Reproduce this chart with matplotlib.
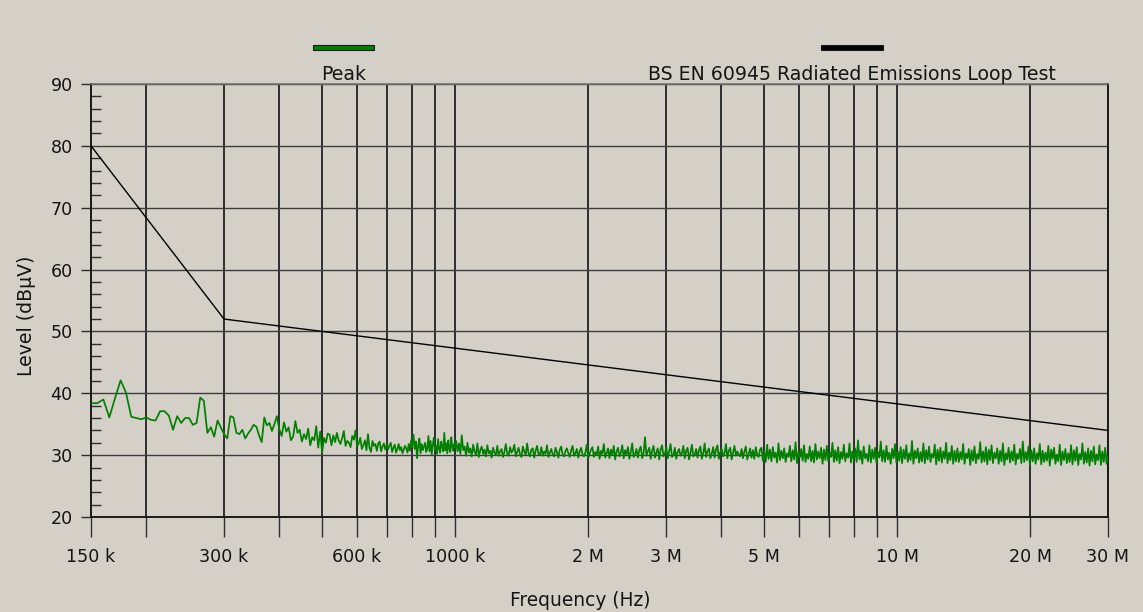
import numpy as np
import matplotlib
matplotlib.use("Agg")
import matplotlib.pyplot as plt
from matplotlib.patches import Rectangle
from matplotlib.ticker import FixedLocator, MultipleLocator

# ---- data ----
# limit line (BS EN 60945 loop test)
limit_freq = [150e3, 300e3, 30e6]
limit_level = [80, 52, 34]

# peak trace, 150 kHz .. 1000 kHz in 5 kHz steps
peak_lo = [
    38.4, 38.4, 39.0, 36.1, 39.2, 42.1, 40.1, 36.2, 36.0, 35.8,
    36.1, 35.7, 35.6, 37.1, 37.1, 36.4, 34.1, 36.3, 35.2, 36.0,
    36.0, 34.9, 35.2, 39.3, 38.8, 33.6, 34.5, 33.0, 35.6, 34.5,
    33.4, 32.7, 36.3, 36.1, 33.6, 33.4, 34.1, 32.7, 33.5, 34.1,
    34.9, 34.6, 33.2, 32.1, 36.1, 34.8, 35.2, 33.9,
    35.0, 36.3, 34.2,
    33.1, 35.3, 33.8, 34.5, 32.4, 33.0, 35.5, 33.6, 34.1, 32.2,
    33.4, 32.6, 34.3, 31.6, 32.9, 32.4, 34.7, 31.2, 33.8, 30.4,
    32.8, 32.0, 33.5, 33.3, 31.6, 33.2, 32.1, 33.6, 32.4, 31.8,
    32.7, 33.9, 31.5, 32.3, 32.0, 31.3, 33.1, 32.5, 34.0, 31.4,
    31.9, 32.8, 31.0, 31.6, 32.4, 30.8, 33.4, 31.2, 30.5, 32.3,
    31.5, 31.8, 30.7, 31.9, 32.2, 30.6, 31.4, 31.9, 30.9, 31.7,
    30.9, 31.6, 32.0, 30.5, 31.2, 31.7, 30.4, 31.0, 31.8, 30.8,
    31.3, 30.3, 30.9, 31.5, 31.1, 30.4, 31.8, 30.7, 32.4, 31.3,
    33.3, 31.0, 32.2, 29.5, 31.6, 32.7, 30.3, 31.8, 30.8, 31.4,
    32.0, 30.5, 31.1, 33.1, 30.6, 32.3, 30.1, 31.7, 32.8, 30.9,
    31.5, 30.2, 32.6, 31.0, 30.4, 32.2, 31.3, 30.6, 33.6, 30.8,
    31.9, 30.3, 32.4, 31.1, 30.5, 32.9, 31.4, 30.7, 31.8, 31.2,
]

# peak trace, 1 MHz .. 30 MHz (log sweep)
peak_hi = [
    32.3, 30.6, 31.9, 30.2, 33.2, 30.8, 31.4, 29.9, 32.0, 30.4,
    31.1, 29.8, 31.7, 30.5, 30.1, 31.9, 29.7, 30.8, 31.4, 30.2,
    30.9, 29.8, 31.6, 30.3, 30.7, 29.6, 31.2, 30.4, 30.0, 31.5,
    29.9, 30.6, 31.0, 29.7, 30.5, 31.8, 30.2, 29.9, 31.3, 30.4,
    30.8, 31.7, 29.8, 30.5, 31.2, 30.1, 29.7, 31.4, 30.6, 30.0,
    31.9, 30.3, 29.8, 30.9, 31.1, 29.6, 30.7, 31.5, 30.2, 30.0,
    31.3, 29.9, 30.6, 30.2, 31.6, 29.7, 30.4, 31.0, 30.1, 29.8,
    31.2, 30.5, 29.6, 30.9, 31.4, 30.0, 29.8, 30.7, 31.1, 30.3,
    29.7, 30.8, 31.5, 29.9, 30.3, 31.0, 29.6, 30.6, 31.2, 30.1,
    29.8, 30.4, 31.7, 29.5, 30.2, 30.9, 31.3, 29.7, 30.5, 30.0,
    31.4, 29.4, 30.7, 30.2, 31.8, 29.6, 30.3, 31.1, 29.5, 30.9,
    30.0, 31.5, 29.3, 30.6, 31.2, 29.8, 30.4, 31.6, 29.5, 30.8,
    30.1, 31.3, 29.4, 30.5, 31.9, 29.7, 30.2, 31.0, 29.6, 30.8,
    31.4, 29.5, 30.3, 32.9, 29.9, 30.6, 31.2, 29.4, 30.7, 31.5,
    29.6, 30.4, 31.1, 29.3, 30.9, 31.6, 29.8, 30.2, 31.3, 29.5,
    30.6, 31.8, 29.7, 30.0, 31.2, 29.4, 30.5, 31.0, 29.9, 30.3,
    31.5, 29.5, 30.7, 31.2, 29.3, 30.4, 31.7, 29.8, 30.1, 31.0,
    29.6, 30.8, 31.4, 29.4, 30.3, 31.9, 29.7, 30.6, 31.1, 29.5,
    30.2, 31.3, 29.6, 30.9, 31.6, 29.4, 30.5, 31.0, 29.8, 30.3,
    31.8, 29.5, 30.7, 31.2, 29.3, 30.4, 31.5, 29.9, 30.6, 30.1,
    29.8, 31.0, 29.5, 30.6, 31.4, 29.3, 30.2, 31.1, 29.6, 30.8,
    29.4, 31.3, 30.0, 29.7, 30.9,
    31.2, 29.1, 30.6, 28.9, 31.7, 29.4, 30.9, 29.0, 31.3, 29.6,
    30.4, 28.8, 31.9, 29.2, 30.7, 29.5, 31.1, 28.9, 30.3, 29.7,
    31.5, 29.0, 30.8, 29.3, 32.1, 28.7, 30.5, 29.6, 31.0, 29.1,
    31.6, 28.9, 30.2, 29.4, 31.4, 29.0, 30.7, 28.8, 31.8, 29.3,
    30.6, 29.5, 31.2, 28.6, 30.9, 29.2, 31.5, 29.0, 30.4, 29.7,
    32.0, 28.9, 30.8, 29.1, 31.3, 28.7, 30.5, 29.4, 31.7, 29.0,
    30.3, 29.6, 31.9, 28.8, 30.6, 29.2, 31.1, 28.9, 32.4, 29.3,
    30.7, 28.6, 31.4, 29.5, 30.2, 29.0, 31.6, 28.8, 30.9, 29.4,
    31.2, 28.7, 30.5, 29.6, 32.2, 29.0, 30.8, 28.9, 31.5, 29.3,
    30.4, 28.6, 31.0, 29.5, 31.8, 28.8, 30.6, 29.1, 31.3, 28.7,
    30.9, 29.4, 31.6, 28.9, 30.3, 29.2, 32.3, 28.6, 30.7, 29.5,
    31.1, 28.8, 30.5, 29.0, 31.9, 28.7, 30.8, 29.3, 31.4, 28.9,
    30.2, 29.6, 31.7, 28.5, 30.9, 29.1, 31.2, 28.8, 30.6, 29.4,
    32.0, 28.7, 30.4, 29.2, 31.5, 28.6, 30.7, 29.0, 31.1, 28.9,
    30.5, 29.3, 31.8, 28.6, 30.3, 29.5, 31.0, 28.4, 30.8, 29.1,
    31.4, 28.7, 30.2, 29.4, 32.1, 28.8, 30.6, 29.0, 31.3, 28.5,
    30.9, 29.2, 31.6, 28.7, 30.4, 29.5, 31.1, 28.6, 30.7, 29.0,
    31.9, 28.4, 30.3, 29.3, 31.2, 28.8, 30.6, 29.1, 31.7, 28.5,
    30.2, 29.4, 31.0, 28.7, 32.2, 28.9, 30.5, 29.2, 31.4, 28.4,
    30.8, 29.0, 31.1, 28.6, 30.3, 29.3, 31.8, 28.5, 30.7, 28.9,
    30.4, 29.1, 31.5, 28.3, 30.9, 29.4, 31.2, 28.6, 30.1, 29.0,
    31.7, 28.4, 30.6, 29.2, 31.0, 28.7, 30.3, 28.9, 31.6, 28.5,
    30.8, 29.1, 31.3, 28.4, 30.2, 29.3, 31.9, 28.6, 30.5, 28.8,
    31.1, 28.3, 30.7, 29.0, 31.4, 28.5, 30.1, 29.2, 31.6, 28.4,
    30.6, 28.9, 31.2, 28.6, 29.9,
]

grid_freq = [150e3, 200e3, 300e3, 400e3, 500e3, 600e3, 700e3, 800e3, 900e3,
             1e6, 2e6, 3e6, 4e6, 5e6, 6e6, 7e6, 8e6, 9e6, 10e6, 20e6, 30e6]
grid_labels = ["150 k", "", "300 k", "", "", "600 k", "", "", "", "1000 k",
               "2 M", "3 M", "", "5 M", "", "", "", "", "10 M", "20 M", "30 M"]
level_ticks = [20, 30, 40, 50, 60, 70, 80, 90]

series_names = ["Peak", "BS EN 60945 Radiated Emissions Loop Test"]

# sweep grids (receiver step settings)
freq_lo = np.arange(150e3, 1000e3 + 1, 5e3)
freq_hi = np.geomspace(1.005e6, 30e6, len(peak_hi))

bg = "#d4d0c8"
green = "#008000"
gridc = "#2e2e2e"
txt = "#141414"

plt.rcParams['font.family'] = ['DejaVu Sans']
fig = plt.figure(figsize=(11.43, 6.12), dpi=100, facecolor=bg)
W, H = 1143, 612
ax = fig.add_axes([91 / W, 1 - 517 / H, (1108 - 91) / W, (517 - 84) / H])
ax.set_facecolor(bg)

ax.plot(np.concatenate([freq_lo, freq_hi]), peak_lo + peak_hi,
        color=green, lw=1.25, zorder=3)
ax.plot(limit_freq, limit_level, color="black", lw=1.0, zorder=4)

ax.set_xscale("log")
ax.set_xlim(150e3, 30e6)
ax.set_ylim(20, 90)

ax.xaxis.set_major_locator(FixedLocator(grid_freq))
ax.xaxis.set_minor_locator(FixedLocator([]))
ax.set_xticklabels(grid_labels)
ax.yaxis.set_major_locator(FixedLocator(level_ticks))
ax.yaxis.set_minor_locator(MultipleLocator(2))

ax.grid(True, which="major", axis="x", color=gridc, lw=1.4, zorder=1)
ax.grid(True, which="major", axis="y", color="#3c3c3c", lw=1.0, zorder=1)

ax.tick_params(axis="x", which="major", direction="out", length=14.5,
               width=1.0, color=gridc, labelsize=12.6, labelcolor=txt, pad=8)
ax.tick_params(axis="y", which="major", direction="out", length=7.2,
               width=1.0, color=gridc, labelsize=12.6, labelcolor=txt, pad=6)
ax.tick_params(axis="y", which="minor", direction="in", length=7.2,
               width=1.0, color=gridc)

for side in ["left", "bottom", "right"]:
    ax.spines[side].set_color("#1a1a1a")
    ax.spines[side].set_linewidth(1.4)
ax.spines["top"].set_color("#707070")
ax.spines["top"].set_linewidth(1.2)

fig.text(27 / W, 1 - 316 / H, "Level (dBµV)", rotation=90, ha="center",
         va="center", fontsize=13.6, color=txt)
fig.text(580 / W, 1 - 601 / H, "Frequency (Hz)", ha="center", va="center",
         fontsize=13.4, color=txt)

# legend drawn above the plot
for x0, x1, col, name in [(313, 374, green, series_names[0]),
                          (821, 883, "black", series_names[1])]:
    fig.add_artist(Rectangle((x0 / W, 1 - 50 / H), (x1 - x0) / W, 5 / H,
                             transform=fig.transFigure, facecolor=col,
                             edgecolor="#1a1a1a", lw=0.8))
    fig.text((x0 + x1) / 2 / W, 1 - 80 / H, name, ha="center", va="baseline",
             fontsize=13.6, color=txt)

fig.savefig("out.png", dpi=100, facecolor=bg)
